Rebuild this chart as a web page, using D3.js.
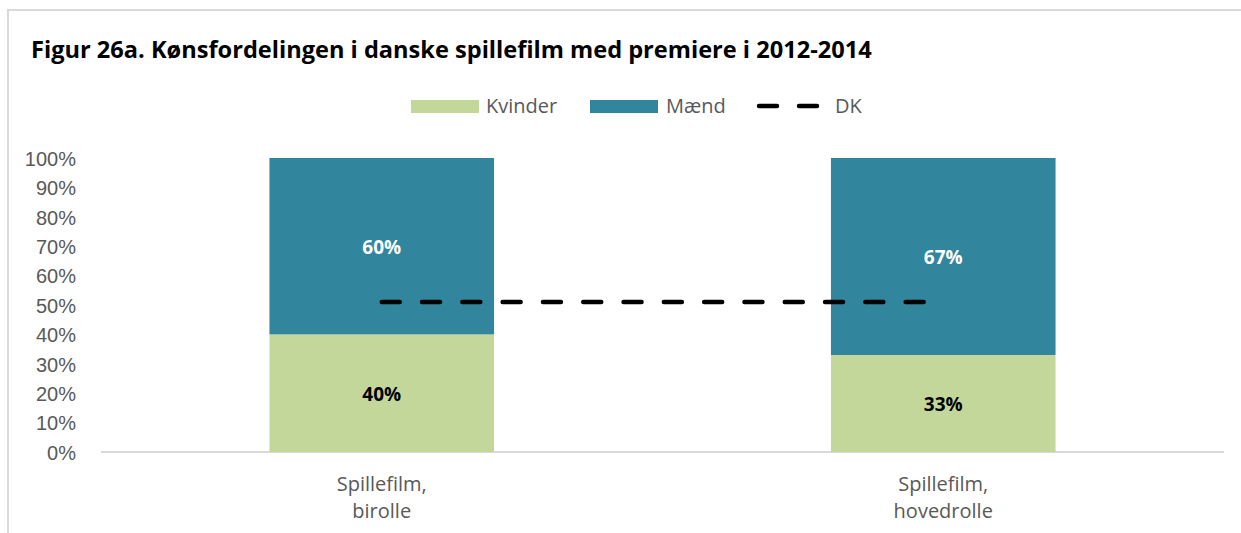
<!DOCTYPE html>
<meta charset='utf-8'>
<style>
  body { margin: 0; background: #fff; }
  svg { font-family: 'Open Sans', Lato, sans-serif; }
  .axis text { fill: #595959; font-size: 20px; }
  .axis path, .axis line { stroke: none; }
</style>
<body>
<script src='https://d3js.org/d3.v7.min.js'></script>
<script>
  const categories = [['Spillefilm,', 'birolle'], ['Spillefilm,', 'hovedrolle']]
  const kvinder = [0.40, 0.33]
  const maend = [0.60, 0.67]
  const dk = [0.51, 0.51]
  const yTicks = [0, 0.1, 0.2, 0.3, 0.4, 0.5, 0.6, 0.7, 0.8, 0.9, 1]
  const colors = {kvinder: '#c4d79b', maend: '#31859c'}

  const W = 1241, H = 533
  const margin = {top: 158, right: 17, bottom: 81, left: 101}
  const width = W - margin.left - margin.right
  const height = H - margin.top - margin.bottom

  const svg = d3.select('body').append('svg')
    .attr('width', W).attr('height', H)

  // frame
  svg.append('path')
    .attr('d', `M8,${H} V10 H${W}`)
    .attr('fill', 'none').attr('stroke', '#d9d9d9').attr('stroke-width', 2)

  svg.append('text')
    .attr('x', 31).attr('y', 58)
    .attr('font-size', 23.6).attr('font-weight', 'bold').attr('fill', '#000')
    .text('Figur 26a. Kønsfordelingen i danske spillefilm med premiere i 2012-2014')

  const g = svg.append('g').attr('transform', `translate(${margin.left},${margin.top})`)

  const idx = categories.map((d, i) => i)
  const x = d3.scaleBand().domain(idx).range([0, width]).paddingInner(0.6).paddingOuter(0.3)
  const y = d3.scaleLinear().domain([0, 1]).range([height, 0])

  g.append('g').attr('class', 'axis')
    .attr('transform', 'translate(-22,0)')
    .call(d3.axisLeft(y).tickValues(yTicks).tickFormat(d3.format('.0%')).tickSize(0))
    .selectAll('text').attr('dy', '0.36em')

  g.append('line')
    .attr('x1', 0).attr('x2', width).attr('y1', height).attr('y2', height)
    .attr('stroke', '#d9d9d9').attr('stroke-width', 2)

  // stacked bars
  idx.forEach(i => {
    g.append('rect')
      .attr('x', x(i)).attr('width', x.bandwidth())
      .attr('y', y(kvinder[i])).attr('height', y(0) - y(kvinder[i]))
      .attr('fill', colors.kvinder)
    g.append('rect')
      .attr('x', x(i)).attr('width', x.bandwidth())
      .attr('y', y(kvinder[i] + maend[i])).attr('height', y(kvinder[i]) - y(kvinder[i] + maend[i]))
      .attr('fill', colors.maend)
    g.append('text')
      .attr('x', x(i) + x.bandwidth() / 2).attr('y', y(kvinder[i] / 2))
      .attr('dy', '0.4em').attr('text-anchor', 'middle')
      .attr('font-size', 19).attr('font-weight', 'bold').attr('fill', '#000')
      .text(d3.format('.0%')(kvinder[i]))
    g.append('text')
      .attr('x', x(i) + x.bandwidth() / 2).attr('y', y(kvinder[i] + maend[i] / 2))
      .attr('dy', '0.4em').attr('text-anchor', 'middle')
      .attr('font-size', 19).attr('font-weight', 'bold').attr('fill', '#fff')
      .text(d3.format('.0%')(maend[i]))
  })

  // DK line
  const line = d3.line().x((d, i) => x(i) + x.bandwidth() / 2).y(d => y(d))
  g.append('path')
    .attr('d', line(dk))
    .attr('fill', 'none').attr('stroke', '#000').attr('stroke-width', 4.5)
    .attr('stroke-dasharray', '18,22.3').attr('stroke-linecap', 'round')

  // category labels
  idx.forEach(i => {
    const t = g.append('text')
      .attr('x', x(i) + x.bandwidth() / 2).attr('y', height + 39)
      .attr('text-anchor', 'middle').attr('font-size', 20).attr('fill', '#595959')
    categories[i].forEach((s, k) => {
      t.append('tspan').attr('x', x(i) + x.bandwidth() / 2).attr('dy', k ? 27 : 0).text(s)
    })
  })

  // legend
  const leg = svg.append('g').attr('font-size', 20).attr('fill', '#595959')
  leg.append('rect').attr('x', 411).attr('y', 100).attr('width', 68).attr('height', 13).attr('fill', colors.kvinder)
  leg.append('text').attr('x', 486).attr('y', 106).attr('dy', '0.36em').text('Kvinder')
  leg.append('rect').attr('x', 590).attr('y', 100).attr('width', 68).attr('height', 13).attr('fill', colors.maend)
  leg.append('text').attr('x', 666).attr('y', 106).attr('dy', '0.36em').text('Mænd')
  leg.append('line').attr('x1', 759).attr('x2', 819).attr('y1', 106).attr('y2', 106)
    .attr('stroke', '#000').attr('stroke-width', 4.5)
    .attr('stroke-dasharray', '18,22').attr('stroke-linecap', 'round')
  leg.append('text').attr('x', 835).attr('y', 106).attr('dy', '0.36em').text('DK')
</script>
</body>
